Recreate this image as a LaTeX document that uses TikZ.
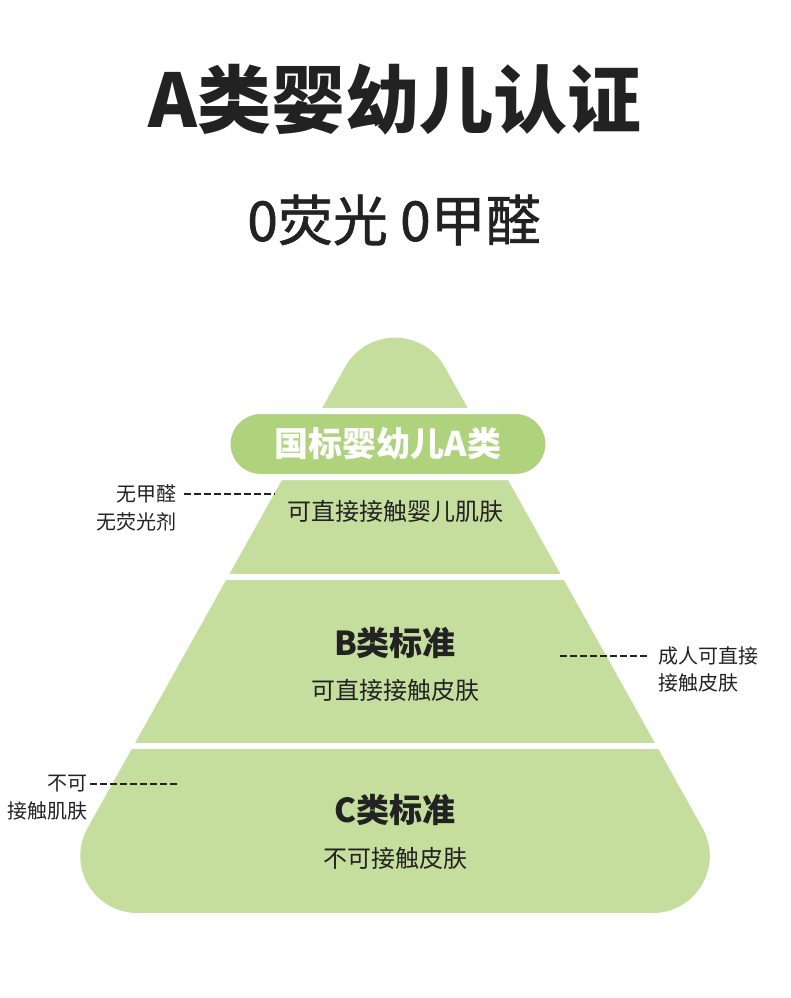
\documentclass[tikz,border=0pt]{standalone}
\usepackage{fontspec}
\setmainfont{Noto Sans CJK SC}
\newfontfamily\subfont{Noto Sans CJK SC}[FakeBold=1.2]
\definecolor{pyrgreen}{RGB}{197,222,157}
\definecolor{pillgreen}{RGB}{175,211,125}
\definecolor{textgrey}{RGB}{34,34,34}
\begin{document}
\begin{tikzpicture}
		% pyramid of textile classes, A on top, C at the base
		[x=1pt,y=-1pt,
		 pill/.style={rectangle,rounded corners=33pt,minimum width=321pt,minimum height=66pt,fill=pillgreen,draw=white,line width=6pt,text=white,font=\fontsize{34}{34}\selectfont\bfseries},
		 head/.style={text=textgrey,inner sep=0pt,font=\fontsize{33}{33}\selectfont\bfseries},
		 label/.style={text=textgrey,inner sep=0pt,font=\fontsize{24}{24}\selectfont},
		 note/.style={text=textgrey,inner sep=0pt,font=\fontsize{20}{20}\selectfont},
		 dashline/.style={textgrey,line width=1.6pt,dash pattern=on 6.5pt off 3.5pt}]
		\useasboundingbox (0,0) rectangle (790,998);

		\node[text=textgrey,font=\fontsize{74}{74}\selectfont\bfseries] (title) at (395,100) {A类婴幼儿认证};
		\node[text=textgrey,font=\fontsize{55}{55}\subfont] (subtitle) at (394,220) {0荧光 0甲醛};

		% triangle with round corners of radius 57
		\fill[pyrgreen] (395,913) -- (652.8,913) arc[start angle=-90,end angle=29.2,radius=57pt]
			-- (444.7,366.8) arc[start angle=29.2,end angle=150.8,radius=57pt]
			-- (87.5,828.2) arc[start angle=150.8,end angle=270,radius=57pt] -- cycle;
		\fill[white] (0,573.5) rectangle (790,579.5);
		\fill[white] (0,743) rectangle (790,749);

		\node[pill] (pillA) at (388,444) {国标婴幼儿A类};
		\node[label] (textA) at (395,511) {可直接接触婴儿肌肤};
		\node[head] (headB) at (395,643) {B类标准};
		\node[label] (textB) at (395,690) {可直接接触皮肤};
		\node[head] (headC) at (395,810) {C类标准};
		\node[label] (textC) at (395,858) {不可接触皮肤};

		\node[note,anchor=east] (noteA1) at (177,494) {无甲醛};
		\node[note,anchor=east] (noteA2) at (177,522) {无荧光剂};
		\coordinate (edgeA) at (275,494);
		\draw[dashline] ([xshift=7pt]noteA1.east) -- (edgeA);

		\node[note,anchor=west] (noteB1) at (658,656) {成人可直接};
		\node[note,anchor=west] (noteB2) at (658,683) {接触皮肤};
		\coordinate (edgeB) at (560,656);
		\draw[dashline] (edgeB) -- ([xshift=-8pt]noteB1.west);

		\node[note,anchor=east] (noteC1) at (88,784) {不可};
		\node[note,anchor=east] (noteC2) at (88,811) {接触肌肤};
		\coordinate (edgeC) at (180,784);
		\draw[dashline] ([xshift=2pt]noteC1.east) -- (edgeC);
	\end{tikzpicture}
\end{document}
